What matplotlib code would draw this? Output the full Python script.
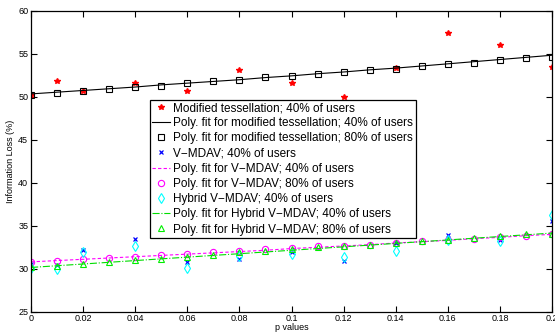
import numpy as np
import matplotlib
matplotlib.use("Agg")
import matplotlib.pyplot as plt

plt.rcParams['font.family'] = ['Liberation Sans', 'DejaVu Sans']

# p values
p40 = [0, 0.01, 0.02, 0.04, 0.06, 0.08, 0.1, 0.12, 0.14, 0.16, 0.18, 0.2]
p80 = [0, 0.01, 0.02, 0.03, 0.04, 0.05, 0.06, 0.07, 0.08, 0.09, 0.1,
       0.11, 0.12, 0.13, 0.14, 0.15, 0.16, 0.17, 0.18, 0.19, 0.2]

# modified tessellation
tess40 = [50.2, 51.9, 50.7, 51.6, 50.7, 53.1, 51.6, 50.0, 53.4, 57.4, 56.0, 53.5]
tess40_fit = [50.35, 50.55, 50.75, 50.95, 51.15, 51.4, 51.6, 51.8, 52.0, 52.25, 52.45,
              52.7, 52.9, 53.15, 53.35, 53.6, 53.85, 54.1, 54.35, 54.6, 54.85]
tess80 = [50.2, 50.4, 50.7, 50.9, 51.1, 51.3, 51.6, 51.8, 52.0, 52.3, 52.4,
          52.7, 52.9, 53.1, 53.3, 53.6, 53.8, 54.0, 54.3, 54.5, 54.7]

# V-MDAV
vm40 = [30.6, 30.4, 32.2, 33.5, 30.75, 31.1, 32.0, 30.9, 32.95, 33.95, 33.4, 35.5]
vm40_fit = [30.8, 30.95, 31.1, 31.25, 31.4, 31.55, 31.7, 31.85, 32.0, 32.15, 32.35,
            32.5, 32.65, 32.8, 33.0, 33.15, 33.3, 33.5, 33.65, 33.85, 34.0]
vm80 = [30.74, 30.9, 31.1, 31.3, 31.4, 31.6, 31.7, 31.9, 32.1, 32.25, 32.4,
        32.6, 32.7, 32.8, 33.0, 33.2, 33.4, 33.5, 33.65, 33.8, 34.0]

# Hybrid V-MDAV
hy40 = [30.05, 29.97, 31.9, 32.7, 30.05, 31.5, 31.7, 31.4, 32.05, 33.4, 33.2, 36.2]
hy40_fit = [30.15, 30.35, 30.55, 30.75, 30.95, 31.15, 31.35, 31.55, 31.75, 31.95, 32.15,
            32.35, 32.55, 32.75, 32.95, 33.15, 33.35, 33.55, 33.75, 33.95, 34.15]
hy80 = [30.2, 30.35, 30.55, 30.8, 31.0, 31.1, 31.4, 31.6, 31.9, 32.1, 32.25,
        32.5, 32.6, 32.8, 33.0, 33.25, 33.3, 33.6, 33.85, 34.0, 34.1]

fig = plt.figure(figsize=(5.55, 3.33), dpi=100)
ax = fig.add_axes([0.056, 0.064, 0.9386, 0.903])

ms = 4.5
ax.plot(p40, tess40, '*', color='red', ms=4, mec='red',
        label='Modified tessellation; 40% of users')
ax.plot(p80, tess40_fit, '-', color='black', lw=0.8,
        label='Poly. fit for modified tessellation; 40% of users')
ax.plot(p80, tess80, 's', color='black', mfc='none', ms=ms, mew=0.8,
        label='Poly. fit for modified tessellation; 80% of users')
ax.plot(p40, vm40, 'x', color='blue', ms=3.5, mew=0.9,
        label='V\u2212MDAV; 40% of users')
ax.plot(p80, vm40_fit, '--', color='magenta', lw=0.8, dashes=(3, 2),
        label='Poly. fit for V\u2212MDAV; 40% of users')
ax.plot(p80, vm80, 'o', color='magenta', mfc='none', ms=ms, mew=0.8,
        label='Poly. fit for V\u2212MDAV; 80% of users')
ax.plot(p40, hy40, 'd', color='cyan', mfc='none', ms=ms + 0.5, mew=0.8,
        label='Hybrid V\u2212MDAV; 40% of users')
ax.plot(p80, hy40_fit, '-.', color='#00dd00', lw=0.8,
        label='Poly. fit for Hybrid V\u2212MDAV; 40% of users')
ax.plot(p80, hy80, '^', color='#00ee00', mfc='none', ms=ms, mew=0.8,
        label='Poly. fit for Hybrid V\u2212MDAV; 80% of users')

ax.set_xlim(0, 0.2)
ax.set_ylim(25, 60)
ax.set_xticks([0, 0.02, 0.04, 0.06, 0.08, 0.1, 0.12, 0.14, 0.16, 0.18, 0.2])
ax.set_xticklabels(['0', '0.02', '0.04', '0.06', '0.08', '0.1', '0.12',
                    '0.14', '0.16', '0.18', '0.2'])
ax.set_yticks([25, 30, 35, 40, 45, 50, 55, 60])
ax.tick_params(direction='in', top=True, right=True, labelsize=6.5,
               length=4, width=0.8, pad=2)
for s in ax.spines.values():
    s.set_linewidth(0.9)

ax.set_xlabel('p values', fontsize=6.5, labelpad=0)
ax.set_ylabel('Information Loss (%)', fontsize=6.5, labelpad=2)

leg = ax.legend(loc='upper left', bbox_to_anchor=(0.228, 0.705),
                fontsize=8.5, frameon=True, fancybox=False,
                edgecolor='black', framealpha=1, borderpad=0.2,
                labelspacing=0.27, handlelength=1.5, handletextpad=0.3,
                borderaxespad=0)
leg.get_frame().set_linewidth(0.9)

fig.savefig('out.png', dpi=100)
